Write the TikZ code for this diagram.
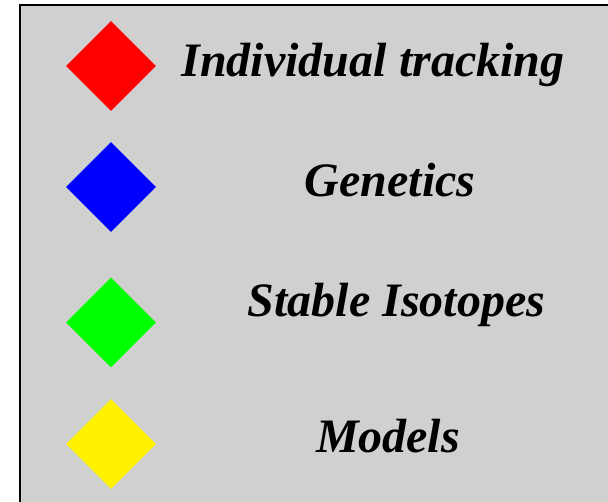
\documentclass[tikz,border=0pt]{standalone}
\usepackage{fontspec}
\setmainfont{Liberation Serif}
\usetikzlibrary{shapes.geometric}
\definecolor{panelgrey}{HTML}{D0D0D0}
\tikzset{
  marker/.style={diamond, aspect=1, inner sep=0pt, minimum width=90pt, minimum height=90pt, draw=none},
  legendtext/.style={anchor=base, inner sep=0pt, font=\fontsize{48}{58}\selectfont\bfseries\itshape}
}
\begin{document}
\begin{tikzpicture}[x=1pt, y=-1pt]
  \useasboundingbox (0,0) rectangle (608,502);
  \clip (0,0) rectangle (608,502);
  % legend panel, running off the right and bottom edges
  \draw[fill=panelgrey, draw=black, line width=2pt] (20,5) rectangle (630,530);
  % markers
  \node[marker, fill=red]    (mtrack) at (111,66)  {};
  \node[marker, fill=blue]   (mgen)   at (111,187) {};
  \node[marker, fill=green]  (miso)   at (111,322.5) {};
  \node[marker, fill=yellow] (mmod)   at (111,444) {};
  % labels
  \node[legendtext] (ltrack) at (373,77)  {Individual tracking};
  \node[legendtext] (lgen)   at (390,197) {Genetics};
  \node[legendtext] (liso)   at (396.5,317) {Stable Isotopes};
  \node[legendtext] (lmod)   at (388,453) {Models};
\end{tikzpicture}
\end{document}
